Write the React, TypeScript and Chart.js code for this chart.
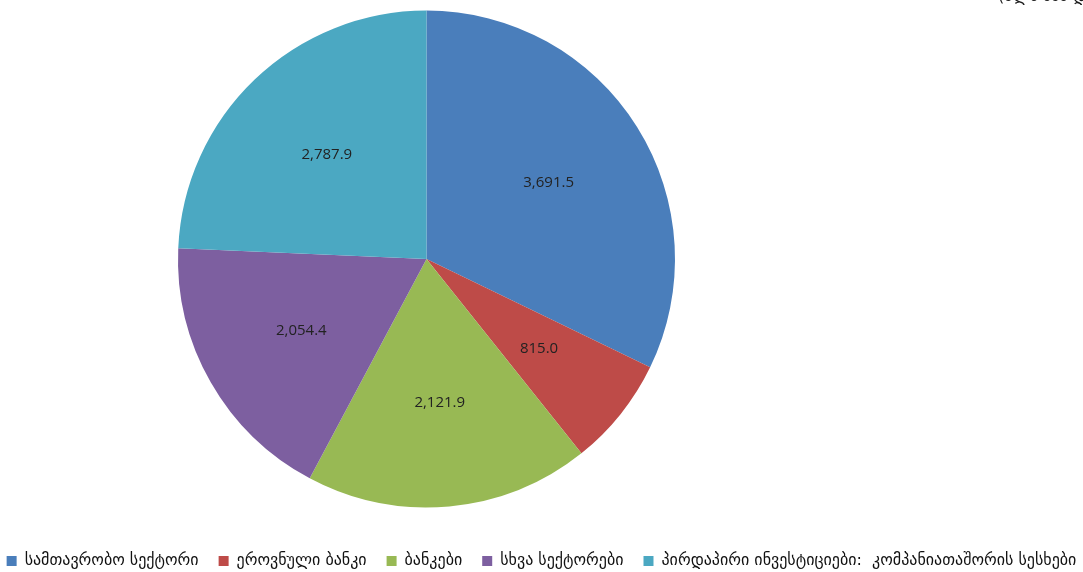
import React, { useEffect, useRef } from "react";
import { Chart, registerables } from "chart.js";

Chart.register(...registerables);

const categories = [
  "სამთავრობო სექტორი",
  "ეროვნული ბანკი",
  "ბანკები",
  "სხვა სექტორები",
  "პირდაპირი ინვესტიციები:  კომპანიათაშორის სესხები",
];
const values = [3691.5, 815.0, 2121.9, 2054.4, 2787.9];
const valueLabels = ["3,691.5", "815.0", "2,121.9", "2,054.4", "2,787.9"];
const colors = ["#4A7EBB", "#BE4B48", "#98B954", "#7D5FA0", "#4BA8C2"];
const unitText = "(მლნ აშშ დოლარი)";

const W = 1083;
const H = 572;

const areaPlugin = {
  id: "pieArea",
  afterLayout(chart: any) {
    const ca = chart.chartArea;
    const size = 497;
    const top = 10.5;
    const right = 853;
    ca.left = 0;
    ca.right = right;
    ca.width = right;
    ca.top = top;
    ca.bottom = top + size;
    ca.height = size;
  },
};

const labelPlugin = {
  id: "sliceLabels",
  afterDatasetsDraw(chart: any) {
    const ctx = chart.ctx;
    const meta = chart.getDatasetMeta(0);
    ctx.save();
    ctx.font = "15px 'Open Sans', sans-serif";
    ctx.fillStyle = "#222222";
    ctx.textAlign = "center";
    ctx.textBaseline = "middle";
    meta.data.forEach((arc: any, i: number) => {
      const p = arc.getProps(["x", "y", "startAngle", "endAngle", "outerRadius"], true);
      const mid = (p.startAngle + p.endAngle) / 2;
      const r = p.outerRadius * 0.58;
      ctx.fillText(valueLabels[i], p.x + Math.cos(mid) * r, p.y + Math.sin(mid) * r);
    });
    ctx.restore();
  },
};

export default function App() {
  const canvasRef = useRef<HTMLCanvasElement | null>(null);

  useEffect(() => {
    if (!canvasRef.current) return;
    const chart = new Chart(canvasRef.current, {
      type: "pie",
      data: {
        labels: categories,
        datasets: [
          {
            data: values,
            backgroundColor: colors,
            borderWidth: 0,
          },
        ],
      },
      options: {
        responsive: false,
        maintainAspectRatio: false,
        animation: false,
        layout: { padding: { top: 10, bottom: -7, left: -40, right: -40 } },
        plugins: {
          tooltip: { enabled: false },
          legend: {
            position: "bottom",
            align: "center",
            labels: {
              boxWidth: 10,
              boxHeight: 10,
              padding: 20,
              color: "#111111",
              font: { family: "'DejaVu Sans', sans-serif", size: 16 },
            },
          },
        },
      },
      plugins: [areaPlugin, labelPlugin],
    });
    return () => chart.destroy();
  }, []);

  return (
    <div
      style={{
        position: "absolute",
        left: 0,
        top: 0,
        width: W,
        height: H,
        overflow: "hidden",
        background: "#ffffff",
      }}
    >
      <canvas ref={canvasRef} width={W} height={H} style={{ display: "block" }} />
      <div
        style={{
          position: "absolute",
          left: 998,
          top: -14,
          whiteSpace: "nowrap",
          fontFamily: "'DejaVu Sans', sans-serif",
          fontSize: 16,
          color: "#1a1a1a",
        }}
      >
        {unitText}
      </div>
    </div>
  );
}
